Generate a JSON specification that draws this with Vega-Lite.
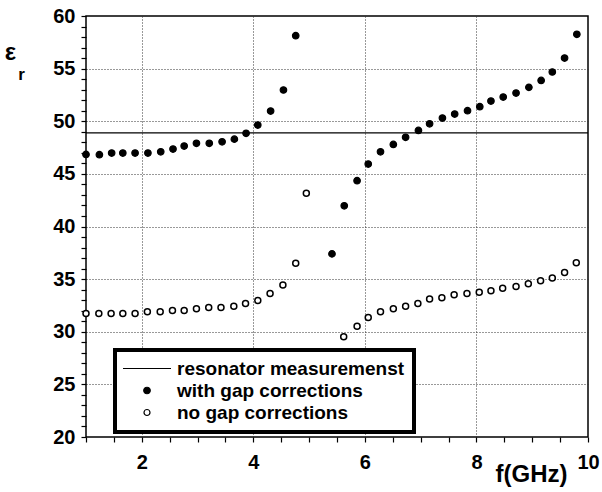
{
  "$schema": "https://vega.github.io/schema/vega-lite/v6.json",
  "width": 502,
  "height": 421,
  "autosize": {"type": "none"},
  "padding": {"left": 86, "top": 16, "right": 14, "bottom": 55},
  "background": "white",
  "config": {
    "font": "Liberation Sans",
    "view": {"stroke": "black", "strokeWidth": 1.5},
    "legend": {"strokeWidth": 4},
    "axis": {
      "domain": false,
      "labelFont": "Liberation Sans",
      "labelFontWeight": "bold",
      "labelFontSize": 20,
      "labelColor": "black",
      "labelFlush": false,
      "labelOverlap": false,
      "gridColor": "#333333",
      "gridDash": [1, 2],
      "gridWidth": 1,
      "titleFont": "Liberation Sans",
      "titleFontWeight": "bold",
      "titleColor": "black"
    }
  },
  "datasets": {
    "resonator": [{"eps": 48.9, "f0": 1, "f1": 10}],
    "withGap": [
      {"f": 1.0, "eps": 46.85, "s": "with gap corrections"},
      {"f": 1.24, "eps": 46.82, "s": "with gap corrections"},
      {"f": 1.46, "eps": 46.98, "s": "with gap corrections"},
      {"f": 1.66, "eps": 46.98, "s": "with gap corrections"},
      {"f": 1.88, "eps": 46.98, "s": "with gap corrections"},
      {"f": 2.11, "eps": 46.98, "s": "with gap corrections"},
      {"f": 2.34, "eps": 47.1, "s": "with gap corrections"},
      {"f": 2.56, "eps": 47.36, "s": "with gap corrections"},
      {"f": 2.76, "eps": 47.64, "s": "with gap corrections"},
      {"f": 2.98, "eps": 47.9, "s": "with gap corrections"},
      {"f": 3.21, "eps": 47.9, "s": "with gap corrections"},
      {"f": 3.44, "eps": 48.05, "s": "with gap corrections"},
      {"f": 3.66, "eps": 48.3, "s": "with gap corrections"},
      {"f": 3.87, "eps": 48.85, "s": "with gap corrections"},
      {"f": 4.08, "eps": 49.64, "s": "with gap corrections"},
      {"f": 4.31, "eps": 50.97, "s": "with gap corrections"},
      {"f": 4.54, "eps": 52.97, "s": "with gap corrections"},
      {"f": 4.76, "eps": 58.13, "s": "with gap corrections"},
      {"f": 5.41, "eps": 37.4, "s": "with gap corrections"},
      {"f": 5.63, "eps": 41.97, "s": "with gap corrections"},
      {"f": 5.86, "eps": 44.35, "s": "with gap corrections"},
      {"f": 6.06, "eps": 45.93, "s": "with gap corrections"},
      {"f": 6.28, "eps": 47.1, "s": "with gap corrections"},
      {"f": 6.51, "eps": 47.8, "s": "with gap corrections"},
      {"f": 6.73, "eps": 48.47, "s": "with gap corrections"},
      {"f": 6.96, "eps": 49.13, "s": "with gap corrections"},
      {"f": 7.16, "eps": 49.76, "s": "with gap corrections"},
      {"f": 7.39, "eps": 50.3, "s": "with gap corrections"},
      {"f": 7.61, "eps": 50.68, "s": "with gap corrections"},
      {"f": 7.84, "eps": 51.0, "s": "with gap corrections"},
      {"f": 8.06, "eps": 51.38, "s": "with gap corrections"},
      {"f": 8.26, "eps": 51.92, "s": "with gap corrections"},
      {"f": 8.48, "eps": 52.3, "s": "with gap corrections"},
      {"f": 8.71, "eps": 52.68, "s": "with gap corrections"},
      {"f": 8.94, "eps": 53.22, "s": "with gap corrections"},
      {"f": 9.16, "eps": 53.88, "s": "with gap corrections"},
      {"f": 9.36, "eps": 54.68, "s": "with gap corrections"},
      {"f": 9.58, "eps": 56.0, "s": "with gap corrections"},
      {"f": 9.8, "eps": 58.26, "s": "with gap corrections"}
    ],
    "noGap": [
      {"f": 1.0, "eps": 31.74, "s": "no gap corrections"},
      {"f": 1.23, "eps": 31.74, "s": "no gap corrections"},
      {"f": 1.45, "eps": 31.74, "s": "no gap corrections"},
      {"f": 1.66, "eps": 31.74, "s": "no gap corrections"},
      {"f": 1.88, "eps": 31.74, "s": "no gap corrections"},
      {"f": 2.1, "eps": 31.9, "s": "no gap corrections"},
      {"f": 2.33, "eps": 31.9, "s": "no gap corrections"},
      {"f": 2.55, "eps": 32.02, "s": "no gap corrections"},
      {"f": 2.76, "eps": 32.02, "s": "no gap corrections"},
      {"f": 2.98, "eps": 32.18, "s": "no gap corrections"},
      {"f": 3.2, "eps": 32.31, "s": "no gap corrections"},
      {"f": 3.42, "eps": 32.31, "s": "no gap corrections"},
      {"f": 3.65, "eps": 32.43, "s": "no gap corrections"},
      {"f": 3.86, "eps": 32.69, "s": "no gap corrections"},
      {"f": 4.08, "eps": 32.97, "s": "no gap corrections"},
      {"f": 4.3, "eps": 33.64, "s": "no gap corrections"},
      {"f": 4.53, "eps": 34.43, "s": "no gap corrections"},
      {"f": 4.76, "eps": 36.52, "s": "no gap corrections"},
      {"f": 4.95, "eps": 43.15, "s": "no gap corrections"},
      {"f": 5.62, "eps": 29.52, "s": "no gap corrections"},
      {"f": 5.86, "eps": 30.53, "s": "no gap corrections"},
      {"f": 6.06, "eps": 31.36, "s": "no gap corrections"},
      {"f": 6.28, "eps": 31.9, "s": "no gap corrections"},
      {"f": 6.51, "eps": 32.18, "s": "no gap corrections"},
      {"f": 6.73, "eps": 32.43, "s": "no gap corrections"},
      {"f": 6.95, "eps": 32.69, "s": "no gap corrections"},
      {"f": 7.16, "eps": 33.1, "s": "no gap corrections"},
      {"f": 7.38, "eps": 33.22, "s": "no gap corrections"},
      {"f": 7.6, "eps": 33.51, "s": "no gap corrections"},
      {"f": 7.83, "eps": 33.64, "s": "no gap corrections"},
      {"f": 8.05, "eps": 33.76, "s": "no gap corrections"},
      {"f": 8.26, "eps": 33.89, "s": "no gap corrections"},
      {"f": 8.47, "eps": 34.14, "s": "no gap corrections"},
      {"f": 8.71, "eps": 34.3, "s": "no gap corrections"},
      {"f": 8.93, "eps": 34.55, "s": "no gap corrections"},
      {"f": 9.15, "eps": 34.84, "s": "no gap corrections"},
      {"f": 9.36, "eps": 35.1, "s": "no gap corrections"},
      {"f": 9.58, "eps": 35.64, "s": "no gap corrections"},
      {"f": 9.79, "eps": 36.55, "s": "no gap corrections"}
    ]
  },
  "resolve": {"axis": {"x": "independent", "y": "independent"}},
  "layer": [
    {
      "data": {"name": "resonator"},
      "mark": {"type": "rule", "color": "black", "strokeWidth": 1.2},
      "encoding": {
        "x": {"field": "f0", "type": "quantitative", "scale": {"domain": [1, 10], "nice": false, "zero": false}, "axis": null},
        "x2": {"field": "f1"},
        "y": {"field": "eps", "type": "quantitative", "scale": {"domain": [20, 60], "nice": false, "zero": false}, "axis": null}
      }
    },
    {
      "data": {"name": "withGap"},
      "mark": {"type": "point", "stroke": "black", "strokeWidth": 1.2, "opacity": 1, "filled": true},
      "encoding": {
        "x": {
          "field": "f", "type": "quantitative",
          "axis": {
            "orient": "bottom",
            "values": [1, 1.5, 2, 2.5, 3, 3.5, 4, 4.5, 5, 5.5, 6, 6.5, 7, 7.5, 8, 8.5, 9, 9.5, 10],
            "format": "~g",
            "labelExpr": "datum.value % 2 == 0 ? datum.label : ''",
            "grid": true,
            "gridOpacity": {"condition": {"test": "datum.value % 2 == 0 && datum.value < 10", "value": 1}, "value": 0},
            "ticks": true,
            "tickColor": "black",
            "tickWidth": 1.2,
            "tickSize": 5,
            "labelPadding": 10,
            "title": "f(GHz)",
            "titleFontSize": 24,
            "titleX": 445,
            "titleY": 44,
            "titleAlign": "center",
            "titleBaseline": "alphabetic"
          }
        },
        "y": {
          "field": "eps", "type": "quantitative",
          "axis": {
            "orient": "left",
            "values": [20,21,22,23,24,25,26,27,28,29,30,31,32,33,34,35,36,37,38,39,40,41,42,43,44,45,46,47,48,49,50,51,52,53,54,55,56,57,58,59,60],
            "format": "~g",
            "labelExpr": "datum.value % 5 == 0 ? datum.label : ''",
            "grid": true,
            "gridOpacity": {"condition": {"test": "datum.value % 5 == 0 && datum.value > 20 && datum.value < 60", "value": 1}, "value": 0},
            "ticks": true,
            "tickColor": "black",
            "tickWidth": 1.2,
            "tickSize": 5,
            "labelPadding": 6,
            "title": "ε",
            "titleAngle": 0,
            "titleFontSize": 24,
            "titleX": -76,
            "titleY": 43,
            "titleAlign": "center",
            "titleBaseline": "alphabetic"
          }
        },
        "shape": {
          "field": "s", "type": "nominal",
          "scale": {"domain": ["resonator measuremenst", "with gap corrections", "no gap corrections"], "range": ["M-6.857,0L6.857,0", "circle", "circle"]},
          "legend": {
            "title": null,
            "orient": "none",
            "legendX": 29,
            "legendY": 334,
            "strokeColor": "black",
            "fillColor": "white",
            "padding": 9,
            "rowPadding": 2,
            "labelFont": "Liberation Sans",
            "labelFontSize": 19,
            "labelFontWeight": "bold",
            "labelColor": "black",
            "labelLimit": 400,
            "symbolStrokeColor": "black",
            "symbolStrokeWidth": 1.2,
            "symbolOffset": 13.5,
            "labelOffset": 20.5,
            "zindex": 3
          }
        },
        "fill": {
          "field": "s", "type": "nominal",
          "scale": {"domain": ["resonator measuremenst", "with gap corrections", "no gap corrections"], "range": ["black", "black", "white"]}
        },
        "size": {
          "field": "s", "type": "nominal",
          "scale": {"domain": ["resonator measuremenst", "with gap corrections", "no gap corrections"], "range": [49, 36, 14]}
        }
      }
    },
    {
      "data": {"name": "noGap"},
      "mark": {"type": "point", "stroke": "black", "strokeWidth": 1.5, "opacity": 1, "filled": true},
      "encoding": {
        "x": {"field": "f", "type": "quantitative", "axis": null},
        "y": {
          "field": "eps", "type": "quantitative",
          "axis": {
            "orient": "right",
            "labels": false,
            "grid": false,
            "ticks": false,
            "title": "r",
            "titleAngle": 0,
            "titleFontSize": 17,
            "titleX": -567,
            "titleY": 63,
            "titleAlign": "center",
            "titleBaseline": "alphabetic"
          }
        },
        "shape": {"field": "s", "type": "nominal"},
        "fill": {"field": "s", "type": "nominal"},
        "size": {"field": "s", "type": "nominal"}
      }
    }
  ]
}
